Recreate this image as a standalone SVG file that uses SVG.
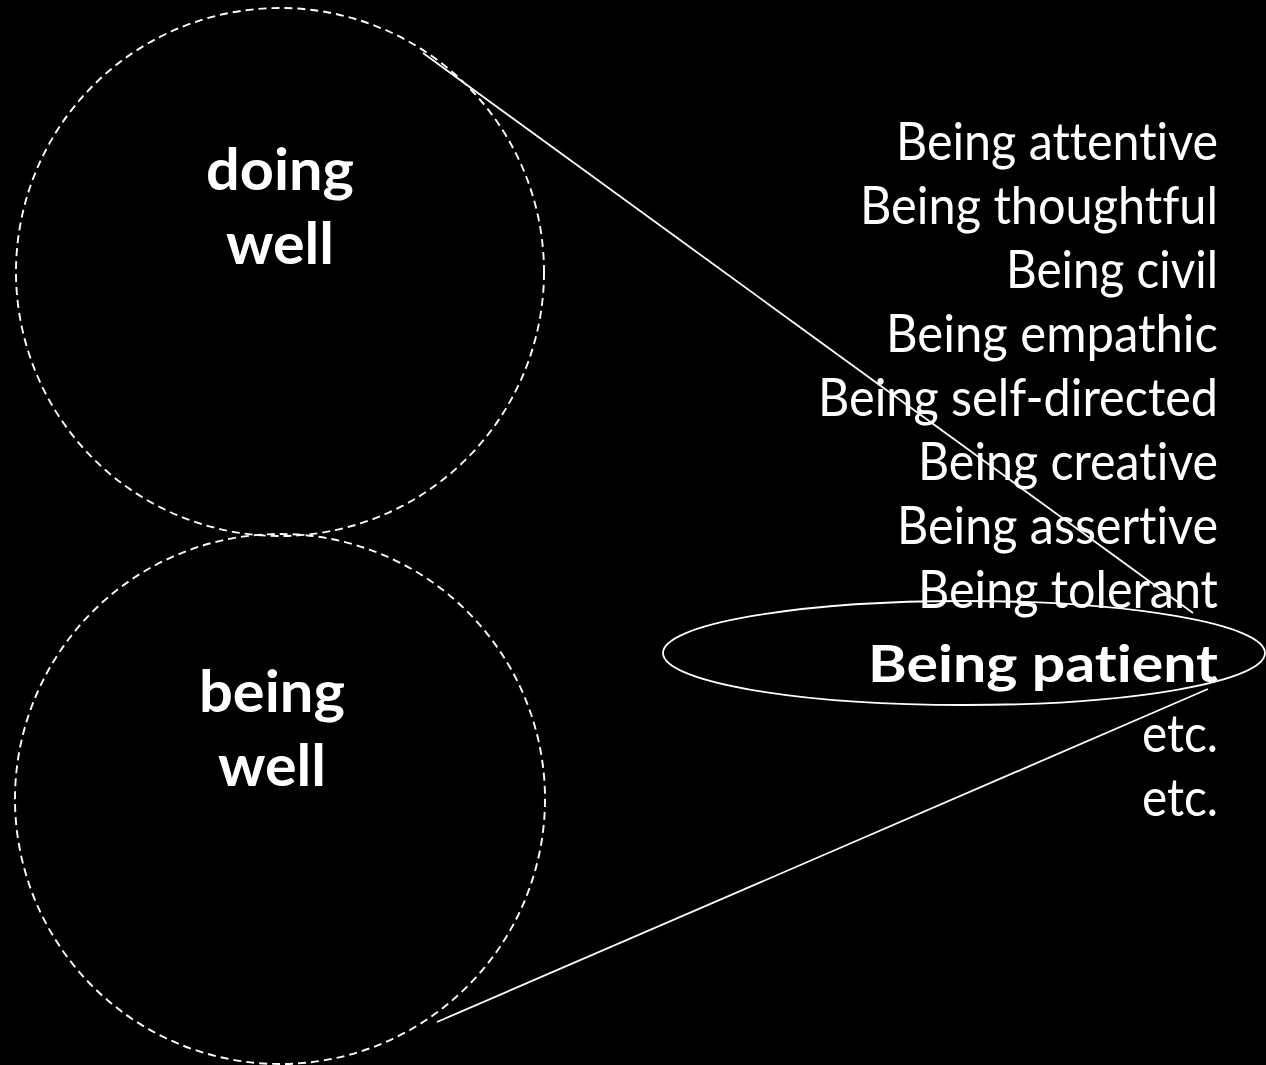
<svg xmlns="http://www.w3.org/2000/svg" width="1266" height="1065" viewBox="0 0 1266 1065">
<style>
text{font-variant-ligatures:none;font-feature-settings:"liga" 0,"clig" 0}
.circ{fill:none;stroke:#fff;stroke-width:1.9;stroke-dasharray:8 5}
.ln{fill:none;stroke:#fff;stroke-width:1.8}
.t{font-family:Lato,"Open Sans","Liberation Sans",sans-serif;fill:#fff;font-size:52px;text-anchor:end}
.b{font-family:Lato,"Open Sans","Liberation Sans",sans-serif;fill:#fff;font-weight:bold;text-anchor:middle}
</style>
<rect width="1266" height="1065" fill="#000"/>
<g id="doing-well">
<circle class="circ" cx="280" cy="272" r="264"/>
<text class="b" font-size="58" x="280" y="190" textLength="148" lengthAdjust="spacingAndGlyphs">doing</text>
<text class="b" font-size="58" x="280" y="264" textLength="108" lengthAdjust="spacingAndGlyphs">well</text>
</g>
<g id="being-well">
<circle class="circ" cx="280" cy="799" r="265"/>
<text class="b" font-size="58" x="272" y="712" textLength="146" lengthAdjust="spacingAndGlyphs">being</text>
<text class="b" font-size="58" x="272" y="786" textLength="108" lengthAdjust="spacingAndGlyphs">well</text>
</g>
<g id="list">
<text class="t" x="1218" y="160" textLength="322" lengthAdjust="spacingAndGlyphs">Being attentive</text>
<text class="t" x="1218" y="224" textLength="358" lengthAdjust="spacingAndGlyphs">Being thoughtful</text>
<text class="t" x="1218" y="288" textLength="212" lengthAdjust="spacingAndGlyphs">Being civil</text>
<text class="t" x="1218" y="352" textLength="332" lengthAdjust="spacingAndGlyphs">Being empathic</text>
<text class="t" x="1218" y="416" textLength="400" lengthAdjust="spacingAndGlyphs">Being self-directed</text>
<text class="t" x="1218" y="480" textLength="300" lengthAdjust="spacingAndGlyphs">Being creative</text>
<text class="t" x="1218" y="544" textLength="321" lengthAdjust="spacingAndGlyphs">Being assertive</text>
<text class="t" x="1218" y="608" textLength="300" lengthAdjust="spacingAndGlyphs">Being tolerant</text>
<text class="t" x="1218" y="752" textLength="76" lengthAdjust="spacingAndGlyphs">etc.</text>
<text class="t" x="1218" y="816" textLength="76" lengthAdjust="spacingAndGlyphs">etc.</text>
</g>
<g id="highlight">
<ellipse class="ln" cx="964" cy="653" rx="301" ry="52"/>
<text class="t" x="1218" y="682" font-size="60" font-weight="bold" textLength="350" lengthAdjust="spacingAndGlyphs">Being patient</text>
</g>
<g id="connectors">
<line class="ln" x1="423" y1="53" x2="1193" y2="613"/>
<line class="ln" x1="437" y1="1022" x2="1208" y2="689"/>
</g>
</svg>
